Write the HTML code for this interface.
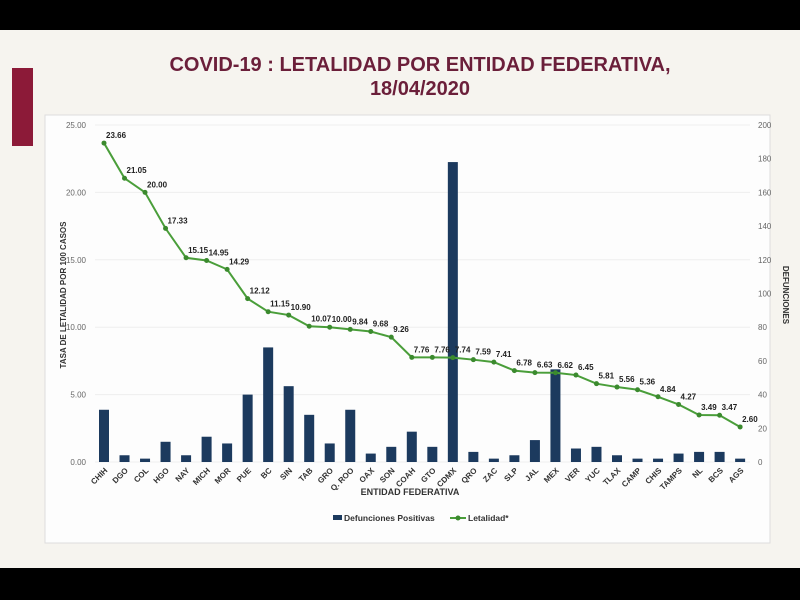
<!DOCTYPE html>
<html><head><meta charset="utf-8"><style>
html,body{margin:0;padding:0;width:800px;height:600px;overflow:hidden;background:#f7f5f1;font-family:"Liberation Sans",sans-serif}
</style></head><body>
<svg id="s" width="800" height="600" xmlns="http://www.w3.org/2000/svg">
<rect x="0" y="0" width="800" height="600" fill="#f6f4ef"/>
<rect x="0" y="0" width="800" height="30" fill="#000"/>
<rect x="0" y="568" width="800" height="32" fill="#000"/>
<rect x="12" y="68" width="21" height="78" fill="#8c1a38"/>
<text x="420" y="71" text-anchor="middle" font-size="20" font-weight="bold" fill="#6b1f3a">COVID-19 : LETALIDAD POR ENTIDAD FEDERATIVA,</text>
<text x="420" y="95" text-anchor="middle" font-size="20" font-weight="bold" fill="#6b1f3a">18/04/2020</text>
<rect x="45" y="115" width="725" height="428" fill="#fdfdfd" stroke="#ddd"/>
<g id="g"></g>
<text x="410" y="495" text-anchor="middle" font-size="9" font-weight="bold" fill="#333">ENTIDAD FEDERATIVA</text>
<rect x="333" y="515" width="9" height="5" fill="#1c3a5e"/>
<text x="344" y="521" font-size="8.5" font-weight="bold" fill="#333">Defunciones Positivas</text>
<line x1="450" y1="518" x2="466" y2="518" stroke="#4a9e3a" stroke-width="2"/>
<circle cx="458" cy="518" r="2.5" fill="#3b8a2e"/>
<text x="468" y="521" font-size="8.5" font-weight="bold" fill="#333">Letalidad*</text>
<text x="66" y="295" transform="rotate(-90 66 295)" text-anchor="middle" font-size="8" font-weight="bold" fill="#333">TASA DE LETALIDAD POR 100 CASOS</text>
<text x="783" y="295" transform="rotate(90 783 295)" text-anchor="middle" font-size="8" font-weight="bold" fill="#333">DEFUNCIONES</text>
</svg>
<script>
var ns="http://www.w3.org/2000/svg",g=document.getElementById('g');
function el(t,a,txt){var e=document.createElementNS(ns,t);for(var k in a)e.setAttribute(k,a[k]);if(txt!=null)e.textContent=txt;g.appendChild(e);return e;}
var names=["CHIH","DGO","COL","HGO","NAY","MICH","MOR","PUE","BC","SIN","TAB","GRO","Q. ROO","OAX","SON","COAH","GTO","CDMX","QRO","ZAC","SLP","JAL","MEX","VER","YUC","TLAX","CAMP","CHIS","TAMPS","NL","BCS","AGS"];
var lv=[23.66,21.05,20.00,17.33,15.15,14.95,14.29,12.12,11.15,10.90,10.07,10.00,9.84,9.68,9.26,7.76,7.76,7.74,7.59,7.41,6.78,6.63,6.62,6.45,5.81,5.56,5.36,4.84,4.27,3.49,3.47,2.60];
var def=[31,4,2,12,4,15,11,40,68,45,28,11,31,5,9,18,9,178,6,2,4,13,55,8,9,4,2,2,5,6,6,2];
var y0=462,yt=125,H=y0-yt;
for(var i=0;i<=5;i++){var y=y0-i*H/5;el('line',{x1:95,x2:750,y1:y,y2:y,stroke:'#eee'});
el('text',{x:86,y:y+3,'text-anchor':'end','font-size':8,fill:'#666'},(i*5).toFixed(2));}
for(var i=0;i<=10;i++){var y=y0-i*H/10;el('text',{x:758,y:y+3,'font-size':8,fill:'#666'},i*20);}
function X(i){return 104+i*20.52;}
for(var i=0;i<32;i++){var h=def[i]*H/200;el('rect',{x:X(i)-5,y:y0-h,width:10,height:h,fill:'#1c3a5e'});
var lx=X(i)+4,ly=y0+9;el('text',{x:lx,y:ly,'text-anchor':'end','font-size':8,'font-weight':'bold',fill:'#333',transform:'rotate(-45 '+lx+' '+ly+')'},names[i]);}
var pts=lv.map(function(v,i){return X(i)+','+(y0-v*H/25);}).join(' ');
el('polyline',{points:pts,fill:'none',stroke:'#4a9e3a','stroke-width':2});
for(var i=0;i<32;i++){var y=y0-lv[i]*H/25;el('circle',{cx:X(i),cy:y,r:2.5,fill:'#3b8a2e'});
el('text',{x:X(i)+2,y:y-5,'font-size':8,'font-weight':'bold',fill:'#222'},lv[i].toFixed(2));}
</script>
</body></html>
